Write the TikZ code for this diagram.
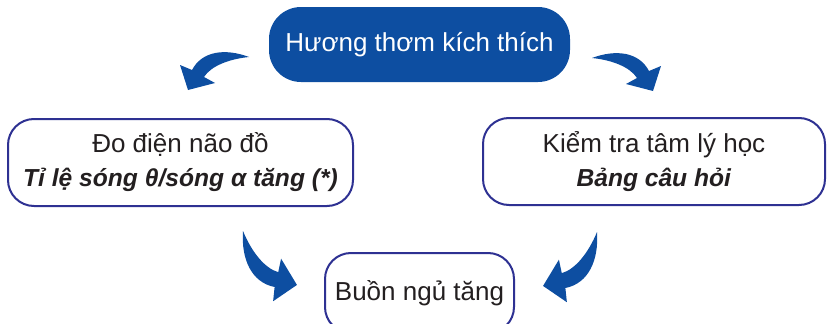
\documentclass[tikz,border=0pt]{standalone}
\usepackage{fontspec}
\setmainfont{Liberation Sans}
\definecolor{boxblue}{HTML}{0D4EA1}
\definecolor{rimblue}{HTML}{2E3192}
\definecolor{inkgray}{HTML}{231F20}
\newcommand{\subline}[1]{{\fontsize{24.6}{34}\selectfont\textbf{\textit{#1}}}}

\begin{document}
\begin{tikzpicture}[x=1pt,y=-1pt,
    box/.style={draw=rimblue, line width=2pt, rounded corners=26pt, fill=white, text=inkgray,
        align=center, font=\fontsize{26}{34}\selectfont, inner sep=0pt},
    swoosh/.pic={\fill[boxblue] (0,0) .. controls (-24,-9) and (-47,-6) .. (-57,13) -- (-69,8) -- (-61,33)
        -- (-34,26) -- (-45,20) .. controls (-38,9) and (-20,2) .. (0,0) -- cycle;}]
        \useasboundingbox (0,0) rectangle (828,324);
        \node[box, fill=boxblue, draw=none, text=white, minimum width=301pt, minimum height=75pt, rounded corners=32pt] (smell) at (419.5,44.5) {Hương thơm kích thích};
        \node[box, minimum width=345pt, minimum height=87pt] (eeg) at (180.5,162.5) {Đo điện não đồ\\\subline{Tỉ lệ sóng θ/sóng α tăng (*)}};
        \node[box, minimum width=342pt, minimum height=87pt] (quiz) at (654,161.5) {Kiểm tra tâm lý học\\\subline{Bảng câu hỏi}};
        \node[box, minimum width=189pt, minimum height=80pt] (sleepy) at (419.5,293) {Buồn ngủ tăng};
        % curved arrows
        \coordinate (tlA) at (249,57);
        \coordinate (trA) at (592,58);
        \coordinate (blA) at (243,231);
        \coordinate (brA) at (597,232);
        \pic at (tlA) {swoosh};
        \pic[xscale=-1] at (trA) {swoosh};
        \pic[rotate=106.6, scale=1.1] at (blA) {swoosh};
        \pic[rotate=-106.6, xscale=-1, scale=1.1] at (brA) {swoosh};
    \end{tikzpicture}
\end{document}
